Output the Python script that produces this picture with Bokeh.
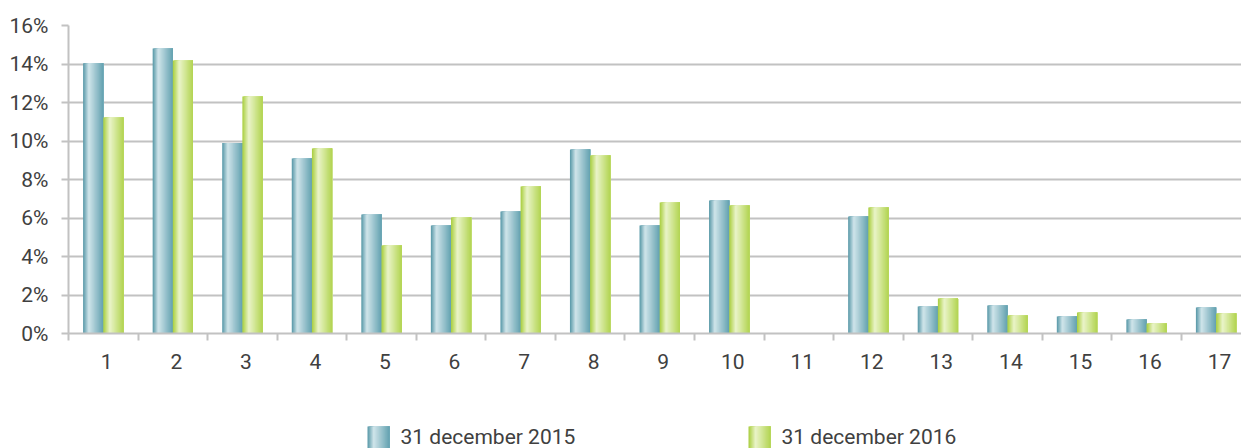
import numpy as np
from bokeh.plotting import figure
from bokeh.layouts import column
from bokeh.models import Range1d, FixedTicker, PrintfTickFormatter
from bokeh.core.properties import value
from bokeh.embed import file_html
from bokeh.resources import INLINE

# ---- data ----
categories = list(range(1, 18))
tick_labels = [str(c) for c in categories]
dec_2015 = [14.04, 14.81, 9.89, 9.09, 6.18, 5.61, 6.34, 9.56, 5.61, 6.91, 0.0, 6.08, 1.40, 1.45, 0.88, 0.73, 1.35]
dec_2016 = [11.22, 14.18, 12.31, 9.61, 4.57, 6.03, 7.64, 9.25, 6.81, 6.65, 0.0, 6.55, 1.82, 0.94, 1.09, 0.52, 1.04]
series_names = ["31 december 2015", "31 december 2016"]
y_ticks = [0, 2, 4, 6, 8, 10, 12, 14, 16]

FONT = "Roboto"
TXT = "#404040"
BLUE_STOPS = [(0.0, "#5596a6"), (0.28, "#d0e5ea"), (1.0, "#63a1b0")]
GREEN_STOPS = [(0.0, "#a8ce3c"), (0.32, "#eaf4c9"), (1.0, "#b2d451")]
N_STRIPES = 24


def hex2rgb(h):
    h = h.lstrip("#")
    return np.array([int(h[i:i + 2], 16) for i in (0, 2, 4)], dtype=float)


def grad_color(stops, t):
    for (t0, c0), (t1, c1) in zip(stops[:-1], stops[1:]):
        if t0 <= t <= t1:
            f = (t - t0) / (t1 - t0) if t1 > t0 else 0
            c = hex2rgb(c0) * (1 - f) + hex2rgb(c1) * f
            return "#%02x%02x%02x" % tuple(int(round(v)) for v in c)
    return stops[-1][1]


W, H_MAIN, H_LEG = 1241, 381, 67
LEFT, TOP, BOTTOM = 68, 25, 48
unit_px = 69.55
x_end = 0.5 + (W - LEFT) / unit_px

p = figure(width=W, height=H_MAIN, output_backend="svg", toolbar_location=None,
           x_range=Range1d(0.5, x_end), y_range=Range1d(0, 16),
           min_border_left=LEFT, min_border_right=0, min_border_top=TOP,
           min_border_bottom=BOTTOM)
p.outline_line_color = None
p.background_fill_color = "white"
p.border_fill_color = "white"

# grid
p.xgrid.grid_line_color = None
p.ygrid.ticker = FixedTicker(ticks=y_ticks)
p.ygrid.grid_line_color = "#c2c2c2"
p.ygrid.grid_line_width = 2

# y axis
p.yaxis.ticker = FixedTicker(ticks=y_ticks)
p.yaxis.formatter = PrintfTickFormatter(format="%d%%")
p.yaxis.axis_line_color = "#c2c2c2"
p.yaxis.axis_line_width = 2
p.yaxis.major_tick_line_color = "#c2c2c2"
p.yaxis.major_tick_line_width = 2
p.yaxis.major_tick_out = 7
p.yaxis.major_tick_in = 0
p.yaxis.minor_tick_line_color = None
p.yaxis.major_label_standoff = 13
p.yaxis.major_label_text_font = FONT
p.yaxis.major_label_text_font_size = "21px"
p.yaxis.major_label_text_color = TXT

# x axis (labels sit slightly right of the category centre, as in the original)
label_pos = [c + 0.05 for c in categories]
p.xaxis.ticker = FixedTicker(ticks=label_pos, minor_ticks=[c - 0.5 for c in categories] + [17.5])
p.xaxis.major_label_overrides = {lp: l for lp, l in zip(label_pos, tick_labels)}
p.xaxis.axis_line_color = "#c2c2c2"
p.xaxis.axis_line_width = 2
p.xaxis.major_tick_line_color = None
p.xaxis.major_tick_out = 0
p.xaxis.major_tick_in = 0
p.xaxis.minor_tick_line_color = "#c2c2c2"
p.xaxis.minor_tick_line_width = 2
p.xaxis.minor_tick_out = 7
p.xaxis.minor_tick_in = 0
p.xaxis.major_label_standoff = 13
p.xaxis.major_label_text_font = FONT
p.xaxis.major_label_text_font_size = "21px"
p.xaxis.major_label_text_color = TXT

# bars with gradient stripes
bw = 0.29
cats = np.array(categories, dtype=float)
for vals, off, stops in ((dec_2015, -bw, BLUE_STOPS), (dec_2016, 0.0, GREEN_STOPS)):
    for i in range(N_STRIPES):
        frac = i / N_STRIPES
        col = grad_color(stops, (i + 0.5) / N_STRIPES)
        p.vbar(x=cats + off + bw * (1 + frac) / 2, width=bw * (1 - frac), top=vals, bottom=0,
               fill_color=col, line_color=None)

# legend figure (no axes); its frame is aligned with the main frame (starts at x=LEFT)
leg = figure(width=W, height=H_LEG, output_backend="svg", toolbar_location=None,
             x_axis_type=None, y_axis_type=None,
             x_range=Range1d(LEFT, W), y_range=Range1d(0, H_LEG),
             min_border=0, min_border_left=LEFT, min_border_right=0,
             min_border_top=0, min_border_bottom=0)
leg.grid.visible = False
leg.outline_line_color = None
leg.border_fill_color = "white"

sw_x = [367, 748]
for sx, stops, name in zip(sw_x, (BLUE_STOPS, GREEN_STOPS), series_names):
    sw_w = 22
    for i in range(N_STRIPES):
        frac = i / N_STRIPES
        col = grad_color(stops, (i + 0.5) / N_STRIPES)
        leg.vbar(x=[sx + sw_w * (1 + frac) / 2], width=[sw_w * (1 - frac)], top=[22], bottom=[0],
                 fill_color=col, line_color=None)
    leg.text(x=[sx + 33], y=[12], text=[name], text_font=value(FONT), text_font_size="21px",
             text_color=TXT, text_baseline="middle", text_align="left")

layout = column(p, leg, spacing=0)
open("out.html", "w").write(file_html(layout, INLINE))
